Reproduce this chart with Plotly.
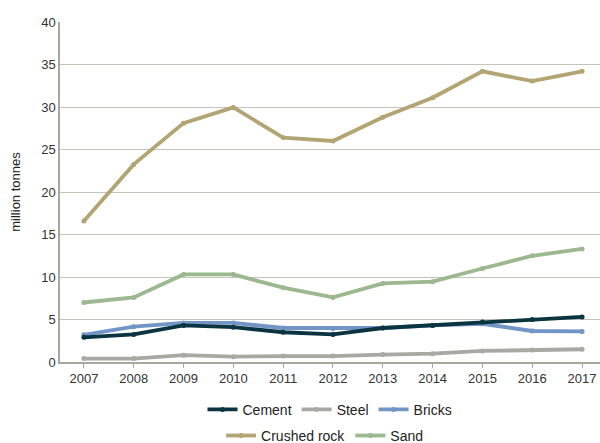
import plotly.graph_objects as go

years = [2007, 2008, 2009, 2010, 2011, 2012, 2013, 2014, 2015, 2016, 2017]

cement = [2.9, 3.25, 4.3, 4.1, 3.5, 3.25, 4.0, 4.3, 4.7, 5.0, 5.3]
steel = [0.4, 0.4, 0.8, 0.63, 0.7, 0.7, 0.87, 0.98, 1.3, 1.4, 1.5]
bricks = [3.2, 4.15, 4.6, 4.6, 4.0, 3.95, 4.0, 4.3, 4.5, 3.65, 3.6]
crushed_rock = [16.6, 23.25, 28.1, 29.95, 26.4, 26.0, 28.8, 31.1, 34.2, 33.05, 34.2]
sand = [7.0, 7.6, 10.3, 10.3, 8.75, 7.6, 9.25, 9.45, 11.0, 12.5, 13.3]

series = [
    ("Cement", cement, "#0b3441", "legend"),
    ("Steel", steel, "#a9a9a3", "legend"),
    ("Bricks", bricks, "#7195c6", "legend"),
    ("Crushed rock", crushed_rock, "#b3a474", "legend2"),
    ("Sand", sand, "#9bb88f", "legend2"),
]

# draw order: tan and green first, then the low lines on top
draw_order = ["Crushed rock", "Sand", "Steel", "Bricks", "Cement"]
lookup = {s[0]: s for s in series}
names = [s[0] for s in series]

fig = go.Figure()
for name in draw_order:
    n, vals, color, leg = lookup[name]
    fig.add_trace(go.Scatter(
        x=years, y=vals, name=n, mode="lines+markers",
        line=dict(color=color, width=3.8),
        marker=dict(color=color, size=5),
        legend=leg,
        legendrank=names.index(n),
    ))

font = dict(family="Liberation Sans, Arial, sans-serif", size=13, color="#333333")
legend_font = dict(family="Liberation Sans, Arial, sans-serif", size=14, color="#222222")

fig.update_layout(
    width=600, height=443,
    margin=dict(l=60, r=0, t=22, b=81, autoexpand=False),
    paper_bgcolor="white", plot_bgcolor="white",
    font=font,
    showlegend=True,
    legend=dict(orientation="h", x=0.5, xanchor="center",
                yref="container", y=0.075, yanchor="middle",
                font=legend_font, itemwidth=30, tracegroupgap=0,
                traceorder="normal", bgcolor="rgba(0,0,0,0)"),
    legend2=dict(orientation="h", x=0.49, xanchor="center",
                 yref="container", y=0.016, yanchor="middle",
                 font=legend_font, itemwidth=30, tracegroupgap=0,
                 traceorder="normal", bgcolor="rgba(0,0,0,0)"),
    xaxis=dict(
        range=[2006.52, 2017.36], tickmode="array", tickvals=years,
        ticktext=[str(y) for y in years],
        showgrid=False, zeroline=False,
        showline=True, linecolor="#a8a89c", linewidth=1.5,
        ticks="outside", ticklen=4, tickcolor="#a8a89c",
        tickfont=dict(size=13, color="#333333"),
    ),
    yaxis=dict(
        range=[0, 40], dtick=5, showgrid=True, gridcolor="#c4c4bc", gridwidth=1.2,
        zeroline=False, showline=True, linecolor="#a8a89c", linewidth=1.5,
        ticks="", tickfont=dict(size=13, color="#333333"),
        title=dict(text="million tonnes", font=dict(size=13, color="#222222"), standoff=18),
    ),
)

fig.write_html("out.html")
